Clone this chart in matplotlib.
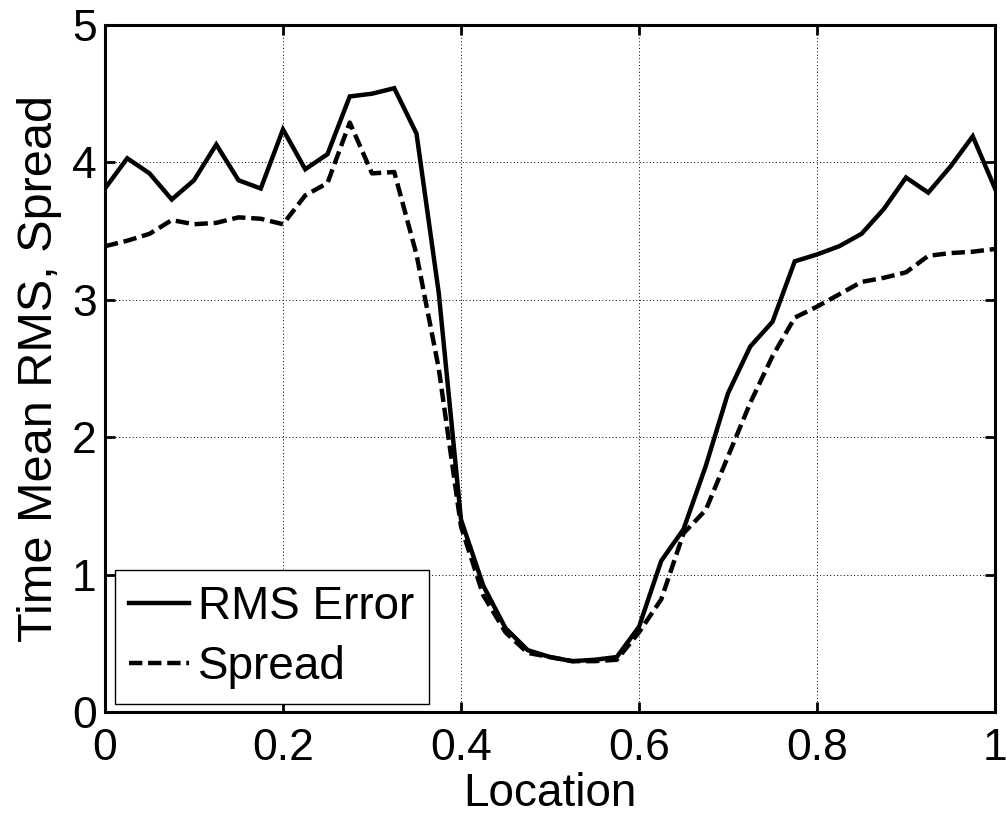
import numpy as np
import matplotlib
matplotlib.use("Agg")
import matplotlib.pyplot as plt

location = np.linspace(0, 1, 41)
rms_error = [3.81, 4.03, 3.92, 3.73, 3.87, 4.13, 3.87, 3.81, 4.24, 3.95,
             4.06, 4.48, 4.50, 4.54, 4.21, 3.05, 1.40, 0.92, 0.61, 0.45,
             0.40, 0.37, 0.38, 0.40, 0.62, 1.10, 1.33, 1.79, 2.32, 2.66,
             2.84, 3.28, 3.33, 3.39, 3.48, 3.66, 3.89, 3.78, 3.97, 4.19, 3.81]
spread = [3.39, 3.43, 3.48, 3.58, 3.55, 3.56, 3.60, 3.59, 3.55, 3.76,
          3.85, 4.29, 3.92, 3.93, 3.33, 2.50, 1.35, 0.85, 0.58, 0.43,
          0.40, 0.37, 0.37, 0.38, 0.58, 0.82, 1.30, 1.47, 1.86, 2.25,
          2.59, 2.87, 2.95, 3.04, 3.13, 3.16, 3.20, 3.32, 3.34, 3.35, 3.37]
xticks = [0, 0.2, 0.4, 0.6, 0.8, 1]
xticklabels = ["0", "0.2", "0.4", "0.6", "0.8", "1"]
yticks = [0, 1, 2, 3, 4, 5]
yticklabels = ["0", "1", "2", "3", "4", "5"]

plt.rcParams['font.family'] = ['Liberation Sans', 'DejaVu Sans']

fig = plt.figure(figsize=(10.06, 8.18), dpi=100)
ax = fig.add_axes([105/1006, 1-712/818, 890/1006, 687/818])

ax.plot(location, rms_error, color='black', lw=3.2, label='RMS Error',
        solid_joinstyle='miter')
ax.plot(location, spread, color='black', lw=3.2, ls=(0, (3.0, 1.3)),
        label='Spread')

ax.set_xlim(0, 1)
ax.set_ylim(0, 5)
ax.set_xticks(xticks)
ax.set_xticklabels(xticklabels)
ax.set_yticks(yticks)
ax.set_yticklabels(yticklabels)

ax.grid(True, color='black', ls=(0, (1, 2.5)), lw=0.7)
for s in ax.spines.values():
    s.set_linewidth(2.2)
ax.tick_params(direction='in', length=7, width=2, top=True, right=True,
               labelsize=32)
ax.tick_params(axis='x', pad=11.5)
ax.tick_params(axis='y', pad=6)

ax.set_xlabel('Location', fontsize=33, labelpad=2)
ax.set_ylabel('Time Mean RMS, Spread', fontsize=35, labelpad=7)

leg = ax.legend(loc='lower left', bbox_to_anchor=(0.011, 0.012),
                borderaxespad=0, fontsize=33, handlelength=1.3,
                handletextpad=0.2, borderpad=0.32, labelspacing=0.35,
                fancybox=False, framealpha=1)
leg.get_frame().set_edgecolor('black')
leg.get_frame().set_linewidth(1.0)

fig.savefig('out.png', dpi=100)
